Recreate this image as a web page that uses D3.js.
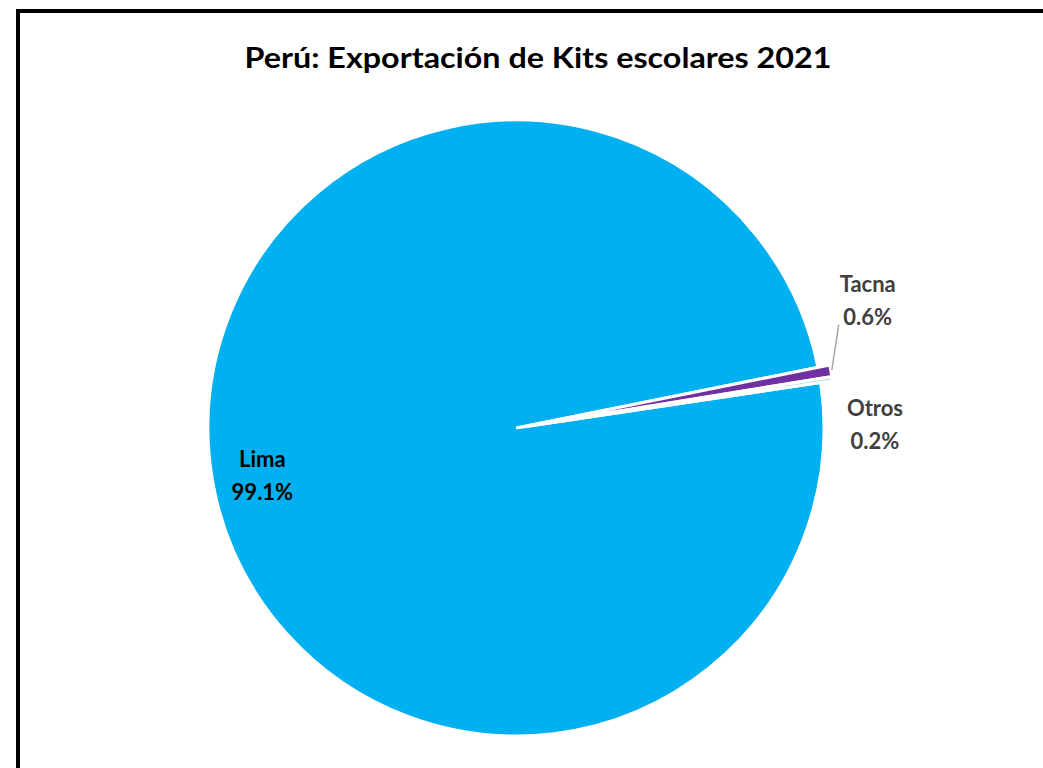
<!DOCTYPE html>
<html>
<head>
<meta charset="utf-8">
<script src="https://cdn.jsdelivr.net/npm/d3@7"></script>
<style>
  body { margin: 0; background: #fff; }
  text { font-family: Lato, "Open Sans", sans-serif; font-weight: bold; }
</style>
</head>
<body>
<div id="chart"></div>
<script>
// data
const categories = ['Lima', 'Tacna', 'Otros'];
const shares = [99.1, 0.6, 0.2];
const colors = ['#00B0F0', '#7030A0', '#A6D8F0'];
const title = 'Perú: Exportación de Kits escolares 2021';

const width = 1043, height = 768;
const cx = 516, cy = 428, radius = 308;
const explode = [0, 12, 12];
const startAngle = 81.5 * Math.PI / 180;

const svg = d3.select('#chart').append('svg')
  .attr('width', width)
  .attr('height', height);

// chart frame
svg.append('rect')
  .attr('x', 18).attr('y', 11)
  .attr('width', 1060).attr('height', 800)
  .attr('fill', '#fff')
  .attr('stroke', '#000')
  .attr('stroke-width', 4);

svg.append('text')
  .attr('x', 538).attr('y', 68)
  .attr('text-anchor', 'middle')
  .attr('font-size', '29px')
  .attr('textLength', 587)
  .attr('lengthAdjust', 'spacingAndGlyphs')
  .attr('fill', '#000')
  .text(title);

const pie = d3.pie().sort(null)
  .startAngle(startAngle)
  .endAngle(startAngle + 2 * Math.PI);

const rows = categories.map((c, i) => ({ name: c, value: shares[i], i: i }));
const arcs = pie.value(d => d.value)(rows);

const arc = d3.arc().innerRadius(0).outerRadius(radius);

const g = svg.append('g').attr('transform', 'translate(' + cx + ',' + cy + ')');

function shift(d) {
  const m = (d.startAngle + d.endAngle) / 2;
  const e = explode[d.data.i];
  return [Math.sin(m) * e, -Math.cos(m) * e];
}

g.selectAll('path.slice')
  .data(arcs)
  .enter()
  .append('path')
  .attr('class', 'slice')
  .attr('d', arc)
  .attr('transform', d => 'translate(' + shift(d) + ')')
  .attr('fill', d => colors[d.data.i])
  .attr('stroke', '#fff')
  .attr('stroke-width', 3);

// label placement
const fmt = d => d.toFixed(1) + '%';
const lima = arcs[0], tacna = arcs[1], otros = arcs[2];

function polar(angle, r) {
  return [Math.sin(angle) * r, -Math.cos(angle) * r];
}

// Lima: inside, on its mid angle
const limaPos = polar((lima.startAngle + lima.endAngle) / 2, radius * 0.836);
// Tacna / Otros: outside, moved by hand as in the original
const tacnaPos = polar(69.7 * Math.PI / 180, 375);
const otrosPos = polar(89 * Math.PI / 180, 359);

// leader line for Tacna
const tMid = (tacna.startAngle + tacna.endAngle) / 2;
const tTip = polar(tMid, radius + explode[1]);
g.append('line')
  .attr('x1', tTip[0] + 1).attr('y1', tTip[1] - 1)
  .attr('x2', tacnaPos[0] - 29).attr('y2', tacnaPos[1] + 27)
  .attr('stroke', '#A6A6A6')
  .attr('stroke-width', 1.5);

const labels = [
  { d: lima, pos: limaPos, fill: '#000' },
  { d: tacna, pos: tacnaPos, fill: '#404040' },
  { d: otros, pos: otrosPos, fill: '#404040' }
];

labels.forEach(l => {
  const t = g.append('text')
    .attr('text-anchor', 'middle')
    .attr('font-size', '22px')
    .attr('fill', l.fill)
    .attr('transform', 'translate(' + l.pos[0] + ',' + l.pos[1] + ')');
  t.append('tspan').attr('x', 0).attr('dy', '-0.25em').text(l.d.data.name);
  t.append('tspan').attr('x', 0).attr('dy', '1.5em').text(fmt(l.d.data.value));
});
</script>
</body>
</html>
